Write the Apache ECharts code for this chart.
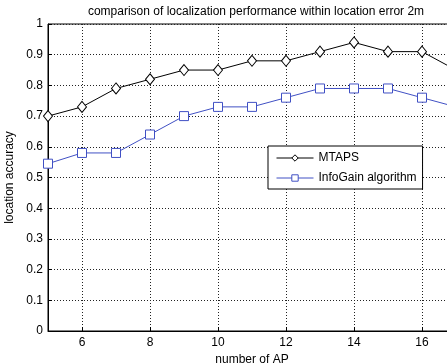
<!DOCTYPE html>
<html><head><meta charset="utf-8">
<script src="https://cdn.jsdelivr.net/npm/echarts@6/dist/echarts.min.js"></script>
<style>html,body{margin:0;padding:0;background:#fff}#c{width:447px;height:364px}</style>
</head><body><div id="c"></div>
<script>
const apCounts = [5,6,7,8,9,10,11,12,13,14,15,16,17];
const mtaps = [0.70,0.73,0.79,0.82,0.85,0.85,0.88,0.88,0.91,0.94,0.91,0.91,0.85];
const infoGain = [0.545,0.58,0.58,0.64,0.70,0.73,0.73,0.76,0.79,0.79,0.79,0.76,0.73];
const xTicks = [6,8,10,12,14,16];
const titleText = 'comparison of localization performance within location error 2m';
const xName = 'number of AP';
const yName = 'location accuracy';

const chart = echarts.init(document.getElementById('c'));
const F = 'Liberation Sans, Arial, sans-serif';
const blue = '#4050c4';
chart.setOption({
  animation: false,
  backgroundColor: '#fff',
  title: {text: titleText, left: 251, top: 1, textAlign: 'center',
    textStyle: {fontFamily: F, fontSize: 12, fontWeight: 'normal', color: '#000'}},
  grid: {left: 48, top: 24, right: -9, bottom: 33, containLabel: false, outerBoundsMode: 'none',
    show: true, borderColor: '#000', borderWidth: 1, backgroundColor: 'transparent'},
  legend: {left: 268, top: 146, orient: 'vertical', itemWidth: 37, itemHeight: 8, itemGap: 8,
    padding: [6, 6, 5, 8], backgroundColor: '#fff', borderColor: '#000', borderWidth: 1,
    textStyle: {fontFamily: F, fontSize: 12, color: '#000'},
    lineStyle: {width: 1},
    itemStyle: {borderWidth: 1, color: '#fff'},
    data: ['MTAPS', 'InfoGain algorithm']},
  xAxis: {type: 'value', min: 5, max: 17, interval: 1,
    name: xName, nameLocation: 'middle', nameGap: 17,
    nameTextStyle: {fontFamily: F, fontSize: 12, color: '#000'},
    axisLine: {show: true, lineStyle: {color: '#000', width: 1}},
    axisTick: {show: true, inside: true, length: 4, customValues: xTicks, lineStyle: {color: '#000'}},
    axisLabel: {fontFamily: F, fontSize: 12, color: '#000', margin: 6, customValues: xTicks},
    splitLine: {show: true, customValues: xTicks, lineStyle: {color: '#222', width: 1, type: [1, 2]}}},
  yAxis: {type: 'value', min: 0, max: 1, interval: 0.1,
    name: yName, nameLocation: 'middle', nameGap: 27,
    nameTextStyle: {fontFamily: F, fontSize: 12, color: '#000'},
    axisLine: {show: true, lineStyle: {color: '#000', width: 1}},
    axisTick: {show: true, inside: true, length: 4, lineStyle: {color: '#000'}},
    axisLabel: {fontFamily: F, fontSize: 12, color: '#000', margin: 5,
      formatter: v => (Math.round(v*10)/10).toString()},
    splitLine: {show: true, lineStyle: {color: '#222', width: 1, type: [1, 2]}}},
  series: [
    {name: 'MTAPS', type: 'line', data: apCounts.map((x,i)=>[x, mtaps[i]]),
      symbol: 'diamond', symbolSize: [9, 11], showAllSymbol: true,
      lineStyle: {color: '#000', width: 1}, itemStyle: {color: '#fff', borderColor: '#000', borderWidth: 1}},
    {name: 'InfoGain algorithm', type: 'line', data: apCounts.map((x,i)=>[x, infoGain[i]]),
      symbol: 'rect', symbolSize: 9, showAllSymbol: true,
      lineStyle: {color: blue, width: 1}, itemStyle: {color: '#fff', borderColor: blue, borderWidth: 1}}
  ]
});
</script></body></html>
